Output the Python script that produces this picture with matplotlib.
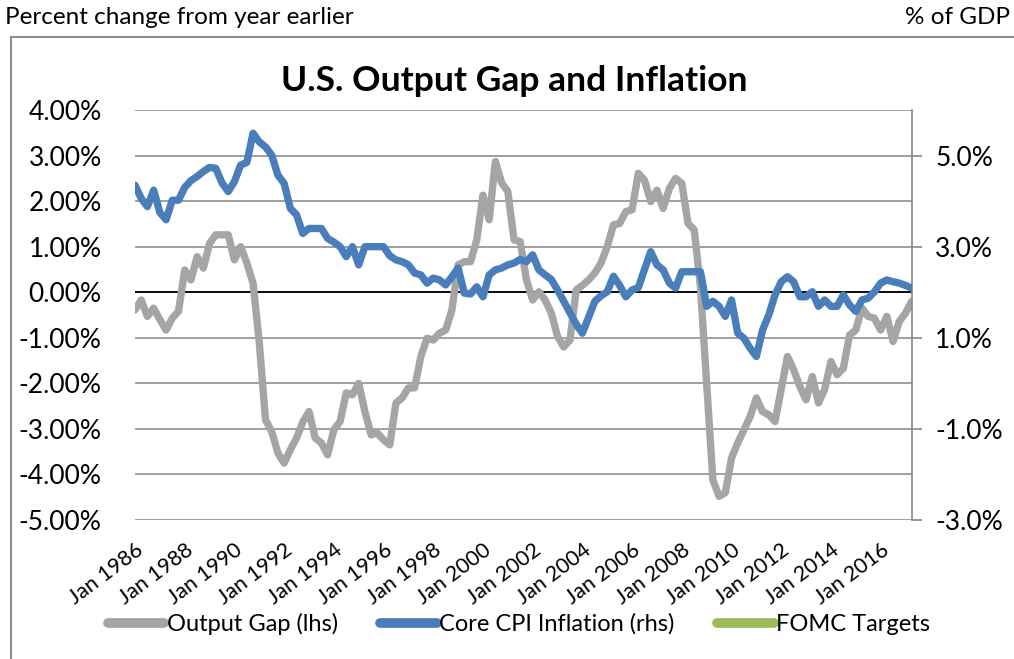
import numpy as np
import matplotlib
matplotlib.use("Agg")
import matplotlib.pyplot as plt
from matplotlib.lines import Line2D

plt.rcParams['font.family'] = ['Lato', 'DejaVu Sans']

# quarterly data, 1986Q1 .. 2017Q2
output_gap = [
    -0.39, -0.17, -0.53, -0.35, -0.60, -0.83, -0.57, -0.42, 0.49, 0.27,
    0.78, 0.53, 1.07, 1.26, 1.26, 1.26, 0.71, 1.00, 0.64, 0.20,
    -1.10, -2.80, -3.06, -3.53, -3.75, -3.46, -3.20, -2.85, -2.62, -3.20,
    -3.31, -3.57, -3.02, -2.84, -2.21, -2.25, -2.00, -2.62, -3.13, -3.09,
    -3.24, -3.35, -2.43, -2.32, -2.10, -2.10, -1.41, -1.01, -1.05, -0.90,
    -0.83, -0.39, 0.60, 0.67, 0.67, 1.15, 2.13, 1.59, 2.87, 2.40,
    2.21, 1.15, 1.11, 0.27, -0.17, 0.01, -0.17, -0.46, -0.97, -1.20,
    -1.05, 0.05, 0.15, 0.27, 0.42, 0.64, 1.00, 1.48, 1.51, 1.77,
    1.81, 2.61, 2.46, 1.99, 2.24, 1.84, 2.28, 2.50, 2.39, 1.51,
    1.37, 0.12, -2.00, -4.12, -4.48, -4.40, -3.64, -3.31, -3.02, -2.73,
    -2.32, -2.62, -2.69, -2.84, -2.13, -1.41, -1.70, -2.07, -2.36, -1.85,
    -2.43, -2.13, -1.52, -1.81, -1.67, -0.94, -0.83, -0.35, -0.53, -0.57,
    -0.83, -0.53, -1.08, -0.64, -0.46, -0.20,
]

core_cpi = [
    4.35, 4.06, 3.88, 4.24, 3.75, 3.59, 4.02, 4.02, 4.30, 4.45,
    4.54, 4.65, 4.74, 4.72, 4.40, 4.21, 4.43, 4.79, 4.85, 5.49,
    5.30, 5.19, 5.01, 4.57, 4.39, 3.84, 3.70, 3.29, 3.40, 3.40,
    3.40, 3.18, 3.10, 3.00, 2.78, 3.00, 2.60, 3.00, 3.00, 3.00,
    3.00, 2.80, 2.71, 2.67, 2.60, 2.42, 2.38, 2.20, 2.31, 2.27,
    2.16, 2.34, 2.53, 1.98, 1.96, 2.12, 1.90, 2.38, 2.49, 2.53,
    2.60, 2.64, 2.72, 2.67, 2.82, 2.49, 2.38, 2.28, 2.05, 1.80,
    1.55, 1.30, 1.10, 1.45, 1.80, 1.92, 2.01, 2.35, 2.15, 1.90,
    2.05, 2.10, 2.50, 2.89, 2.60, 2.49, 2.20, 2.09, 2.45, 2.45,
    2.45, 2.45, 1.69, 1.80, 1.69, 1.47, 1.83, 1.10, 0.99, 0.77,
    0.59, 1.17, 1.50, 1.94, 2.23, 2.34, 2.23, 1.90, 1.90, 2.01,
    1.69, 1.83, 1.69, 1.69, 1.94, 1.72, 1.58, 1.83, 1.87, 2.01,
    2.20, 2.27, 2.23, 2.20, 2.15, 2.09,
]

tick_years = list(range(1986, 2017, 2))
tick_labels = ["Jan %d" % y for y in tick_years]
left_ticks = [-5, -4, -3, -2, -1, 0, 1, 2, 3, 4]
right_ticks = [-3, -1, 1, 3, 5]

GREY = '#A5A5A5'
BLUE = '#4A7EBB'
GREEN = '#9BBB59'
GRID = '#868686'

x = 1986 + np.arange(len(output_gap)) / 4.0

W, H = 1014, 659
fig = plt.figure(figsize=(W / 100, H / 100), dpi=100)
ax = fig.add_axes([135 / W, 1 - 520 / H, (911.7 - 135) / W, (520 - 110) / H])

ax.set_xlim(1986, 2017.25)
ax.set_ylim(-5, 4)
ax.set_yticks(left_ticks)
ax.set_yticklabels(["%.2f%%" % v for v in left_ticks])
ax.yaxis.grid(True, color=GRID, lw=1.1)
ax.set_axisbelow(True)
ax.axhline(0, color='black', lw=1.3, zorder=1.5)
for s in ax.spines.values():
    s.set_visible(False)
ax.tick_params(axis='y', length=0, pad=24, labelsize=19)

ax.set_xticks(tick_years)
ax.set_xticklabels(tick_labels, rotation=37, ha='right', rotation_mode='anchor')
ax.tick_params(axis='x', length=0, pad=14, labelsize=15.5)

ax.plot(x, output_gap, color=GREY, lw=5.3, solid_joinstyle='round', solid_capstyle='round', zorder=3)

ax2 = ax.twinx()
ax2.set_ylim(-3, 6)
ax2.set_yticks(right_ticks)
ax2.set_yticklabels(["%.1f%%" % v for v in right_ticks])
for k, s in ax2.spines.items():
    s.set_visible(k == 'right')
ax2.spines['right'].set_color(GRID)
ax2.spines['right'].set_linewidth(1.2)
ax2.tick_params(axis='y', length=7, width=1.2, color=GRID, pad=10, labelsize=19)
ax2.plot(x, core_cpi, color=BLUE, lw=5.3, solid_joinstyle='round', solid_capstyle='round', zorder=3)

fig.text(514 / W, 1 - 81 / H, "U.S. Output Gap and Inflation", ha='center', va='center',
         fontsize=25.5, fontweight='bold')
fig.text(5 / W, 1 - 18 / H, "Percent change from year earlier", ha='left', va='center', fontsize=17.5)
fig.text(1010 / W, 1 - 18 / H, "% of GDP", ha='right', va='center', fontsize=17.5)

# outer chart frame (left and top edges visible)
fig.add_artist(Line2D([11 / W, 11 / W], [0, 1 - 37 / H], color='#8C8C8C', lw=1.5, transform=fig.transFigure))
fig.add_artist(Line2D([11 / W, 1], [1 - 37 / H, 1 - 37 / H], color='#8C8C8C', lw=1.5, transform=fig.transFigure))

handles = [
    Line2D([0], [0], color=GREY, lw=7, solid_capstyle='round'),
    Line2D([0], [0], color=BLUE, lw=7, solid_capstyle='round'),
    Line2D([0], [0], color=GREEN, lw=7, solid_capstyle='round'),
]
labels = ["Output Gap (lhs)", "Core CPI Inflation (rhs)", "FOMC Targets"]
fig.legend(handles, labels, loc='center', bbox_to_anchor=(519 / W, 1 - 624 / H), ncol=3,
           frameon=False, fontsize=17, handlelength=2.4, handletextpad=0.1, columnspacing=1.8)

fig.savefig("out.png", dpi=100)
